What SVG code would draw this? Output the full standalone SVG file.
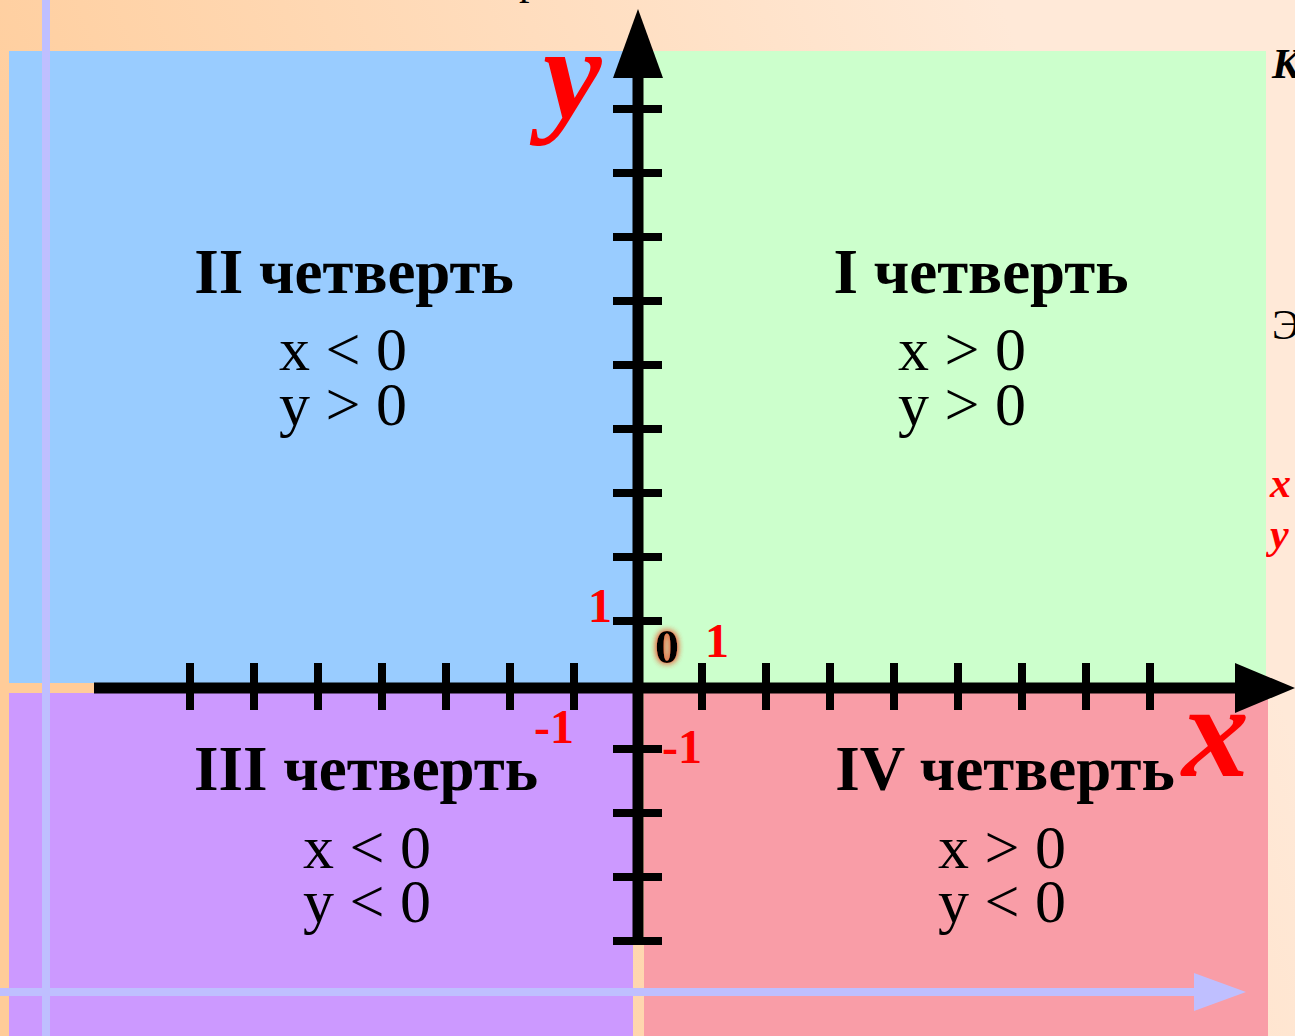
<svg xmlns="http://www.w3.org/2000/svg" width="1295" height="1036" viewBox="0 0 1295 1036">
<defs>
<linearGradient id="bg" gradientUnits="userSpaceOnUse" x1="0" y1="400" x2="1000" y2="0">
<stop offset="0" stop-color="#FFCC99"/>
<stop offset="1" stop-color="#FFE9D8"/>
</linearGradient>
<filter id="glow" x="-50%" y="-50%" width="200%" height="200%">
<feGaussianBlur in="SourceAlpha" stdDeviation="3" result="b"/>
<feFlood flood-color="#E8603A"/>
<feComposite in2="b" operator="in" result="g"/>
<feMerge><feMergeNode in="g"/><feMergeNode in="g"/><feMergeNode in="SourceGraphic"/></feMerge>
</filter>
<style>
.title{font-family:"Liberation Serif","Times New Roman",serif;font-weight:bold;font-size:63px;fill:#000;text-anchor:middle}
.cond{font-family:"Liberation Serif","Times New Roman",serif;font-size:62px;fill:#000;text-anchor:middle}
.num{font-family:"Liberation Serif","Times New Roman",serif;font-weight:bold;font-size:48px;fill:#FF0000}
.big{font-family:"Liberation Serif","Times New Roman",serif;font-weight:bold;font-style:italic;fill:#FF0000}
.side{font-family:"Liberation Serif","Times New Roman",serif;font-size:42px}
.axis{stroke:#000;stroke-width:11;fill:none}
.tick{stroke:#000;stroke-width:8}
</style>
</defs>
<rect x="0" y="0" width="1295" height="1036" fill="url(#bg)"/>
<text x="519" y="-6" class="side" fill="#000">р</text>
<text x="1272" y="78" class="side" font-weight="bold" font-style="italic" fill="#000">К</text>
<text x="1272" y="339" class="side" fill="#000">Э</text>
<text x="1270" y="497" class="side" font-weight="bold" font-style="italic" fill="#FF0000">x</text>
<text x="1270" y="548" class="side" font-weight="bold" font-style="italic" fill="#FF0000">y</text>

<g id="quadrant-2"><rect x="9" y="51" width="624" height="632" fill="#99CCFF"/></g>
<g id="quadrant-1"><rect x="643" y="51" width="623" height="632" fill="#CCFFCC"/></g>
<g id="quadrant-3"><rect x="9" y="693" width="624" height="343" fill="#CC99FF"/></g>
<g id="quadrant-4"><rect x="644" y="693" width="624" height="343" fill="#F99DA7"/></g>

<g id="guides" fill="#BFBFFF">
<rect x="42" y="0" width="8" height="1036"/>
<rect x="0" y="988" width="1196" height="8"/>
<polygon points="1194,973 1246,992 1194,1011"/>
</g>

<g id="connectors">
<line class="axis" x1="94" y1="688" x2="1240" y2="688"/>
<polygon points="1235,663 1295,688 1235,713" fill="#000"/>
<line class="axis" x1="638" y1="945" x2="638" y2="70"/>
<polygon points="613,78 638,9 663,78" fill="#000"/>
<g class="tick">
<line x1="190" y1="663" x2="190" y2="710"/>
<line x1="254" y1="663" x2="254" y2="710"/>
<line x1="318" y1="663" x2="318" y2="710"/>
<line x1="382" y1="663" x2="382" y2="710"/>
<line x1="446" y1="663" x2="446" y2="710"/>
<line x1="510" y1="663" x2="510" y2="710"/>
<line x1="574" y1="663" x2="574" y2="710"/>
<line x1="702" y1="663" x2="702" y2="710"/>
<line x1="766" y1="663" x2="766" y2="710"/>
<line x1="830" y1="663" x2="830" y2="710"/>
<line x1="894" y1="663" x2="894" y2="710"/>
<line x1="958" y1="663" x2="958" y2="710"/>
<line x1="1022" y1="663" x2="1022" y2="710"/>
<line x1="1086" y1="663" x2="1086" y2="710"/>
<line x1="1150" y1="663" x2="1150" y2="710"/>
<line x1="613" y1="109" x2="662" y2="109"/>
<line x1="613" y1="173" x2="662" y2="173"/>
<line x1="613" y1="237" x2="662" y2="237"/>
<line x1="613" y1="301" x2="662" y2="301"/>
<line x1="613" y1="365" x2="662" y2="365"/>
<line x1="613" y1="429" x2="662" y2="429"/>
<line x1="613" y1="493" x2="662" y2="493"/>
<line x1="613" y1="557" x2="662" y2="557"/>
<line x1="613" y1="621" x2="662" y2="621"/>
<line x1="613" y1="749" x2="662" y2="749"/>
<line x1="613" y1="813" x2="662" y2="813"/>
<line x1="613" y1="877" x2="662" y2="877"/>
<line x1="613" y1="941" x2="662" y2="941"/>
</g>
</g>

<g id="axis-labels">
<text x="543" y="118" class="big" font-size="132">y</text>
<text x="1182" y="776" class="big" font-size="134">x</text>
<text x="588" y="622" class="num">1</text>
<text x="705" y="657" class="num">1</text>
<text x="534" y="743" class="num">-1</text>
<text x="662" y="763" class="num">-1</text>
<text x="655" y="663" class="num" style="fill:#000" filter="url(#glow)">0</text>
</g>

<g id="label-2">
<text x="354" y="293" class="title">II четверть</text>
<text x="343" y="370" class="cond">x &lt; 0</text>
<text x="343" y="425" class="cond">y &gt; 0</text>
</g>
<g id="label-1">
<text x="981" y="293" class="title">I четверть</text>
<text x="962" y="370" class="cond">x &gt; 0</text>
<text x="962" y="425" class="cond">y &gt; 0</text>
</g>
<g id="label-3">
<text x="366" y="790" class="title">III четверть</text>
<text x="367" y="868" class="cond">x &lt; 0</text>
<text x="367" y="922" class="cond">y &lt; 0</text>
</g>
<g id="label-4">
<text x="1005" y="790" class="title">IV четверть</text>
<text x="1002" y="868" class="cond">x &gt; 0</text>
<text x="1002" y="922" class="cond">y &lt; 0</text>
</g>
</svg>
